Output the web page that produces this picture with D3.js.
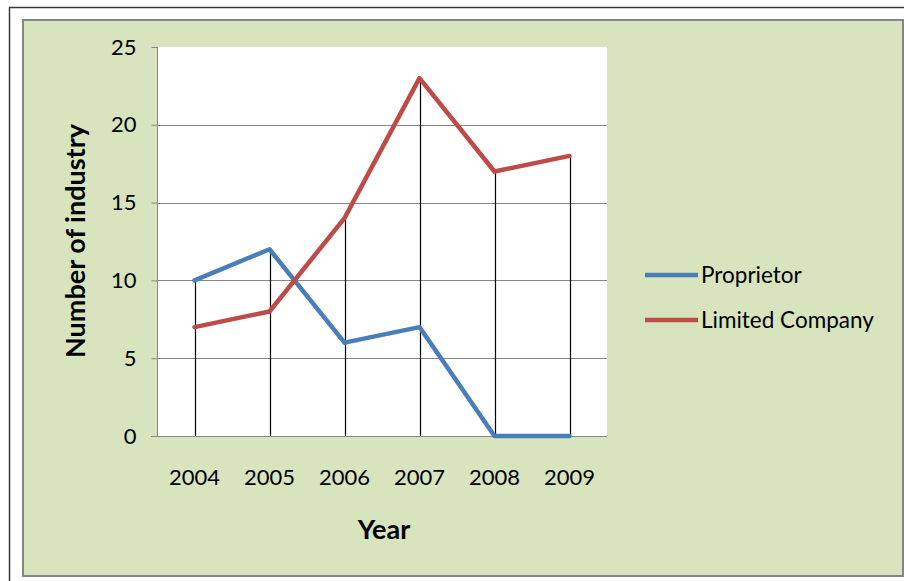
<!DOCTYPE html>
<html>
<head>
<meta charset="utf-8">
<script src="https://cdn.jsdelivr.net/npm/d3@7"></script>
<style>
  body { margin: 0; background: #fff; }
  svg text { font-family: Lato, "Open Sans", sans-serif; fill: #000; }
</style>
</head>
<body>
<div id="chart"></div>
<script>
const years = ['2004', '2005', '2006', '2007', '2008', '2009'];
const proprietor = [10, 12, 6, 7, 0, 0];
const limitedCompany = [7, 8, 14, 23, 17, 18];
const yTicks = [0, 5, 10, 15, 20, 25];

const series = [
    { name: 'Proprietor', values: proprietor, color: '#4A7EBB' },
    { name: 'Limited Company', values: limitedCompany, color: '#BE4B48' }
];

const width = 904, height = 581;
const plot = { left: 157, top: 47, right: 607, bottom: 436 };

const svg = d3.select('#chart')
    .append('svg')
    .attr('width', width)
    .attr('height', height);

// Outer frame lines
svg.append('path')
    .attr('d', `M9.5,${height} V7.5 H${width}`)
    .attr('fill', 'none')
    .attr('stroke', '#3a3a3a')
    .attr('stroke-width', 1.5);

// Chart area
svg.append('rect')
    .attr('x', 23)
    .attr('y', 20)
    .attr('width', 880)
    .attr('height', 556)
    .attr('fill', '#D7E4BD')
    .attr('stroke', '#868686')
    .attr('stroke-width', 2);

// Plot area
svg.append('rect')
    .attr('x', plot.left)
    .attr('y', plot.top)
    .attr('width', plot.right - plot.left)
    .attr('height', plot.bottom - plot.top)
    .attr('fill', '#fff');

const x = d3.scaleBand()
    .domain(years)
    .range([plot.left, plot.right])
    .padding(0);

const y = d3.scaleLinear()
    .domain([0, 25])
    .range([plot.bottom, plot.top]);

// Gridlines
svg.append('g')
    .selectAll('line')
    .data(yTicks.filter(d => d > 0 && d < 25))
    .join('line')
    .attr('x1', plot.left)
    .attr('x2', plot.right)
    .attr('y1', d => Math.round(y(d)) + 0.5)
    .attr('y2', d => Math.round(y(d)) + 0.5)
    .attr('stroke', '#868686')
    .attr('stroke-width', 1);

// Y axis
const yAxis = svg.append('g')
    .attr('transform', `translate(${plot.left + 0.5},0)`)
    .call(d3.axisLeft(y).tickValues(yTicks).tickSize(6).tickPadding(15));
yAxis.select('.domain').attr('stroke', '#868686').attr('d', `M0,${plot.top}V${plot.bottom}`);
yAxis.selectAll('.tick line').attr('stroke', '#868686');
yAxis.selectAll('.tick text')
    .style('font-size', '22px')
    .attr('fill', '#000');

// X axis line
svg.append('line')
    .attr('x1', plot.left - 6)
    .attr('x2', plot.right)
    .attr('y1', plot.bottom + 0.5)
    .attr('y2', plot.bottom + 0.5)
    .attr('stroke', '#868686');

// X labels
svg.append('g')
    .selectAll('text')
    .data(years)
    .join('text')
    .attr('x', d => x(d) + x.bandwidth() / 2)
    .attr('y', 485)
    .attr('text-anchor', 'middle')
    .style('font-size', '22px')
    .text(d => d);

// Drop lines
svg.append('g')
    .selectAll('line')
    .data(years)
    .join('line')
    .attr('x1', d => Math.round(x(d) + x.bandwidth() / 2) + 0.5)
    .attr('x2', d => Math.round(x(d) + x.bandwidth() / 2) + 0.5)
    .attr('y1', (d, i) => y(d3.max(series, s => s.values[i])))
    .attr('y2', plot.bottom)
    .attr('stroke', '#000')
    .attr('stroke-width', 1.2);

// Lines
const line = d3.line()
    .x((d, i) => x(years[i]) + x.bandwidth() / 2)
    .y(d => y(d));

svg.append('g')
    .selectAll('path')
    .data(series)
    .join('path')
    .attr('d', d => line(d.values))
    .attr('fill', 'none')
    .attr('stroke', d => d.color)
    .attr('stroke-width', 4.5)
    .attr('stroke-linejoin', 'round')
    .attr('stroke-linecap', 'round');

// Axis titles
svg.append('text')
    .attr('transform', 'translate(85,241) rotate(-90)')
    .attr('text-anchor', 'middle')
    .style('font-size', '27px')
    .style('font-weight', 'bold')
    .text('Number of industry');

svg.append('text')
    .attr('x', 384)
    .attr('y', 539)
    .attr('text-anchor', 'middle')
    .style('font-size', '27px')
    .style('font-weight', 'bold')
    .text('Year');

// Legend
const legend = svg.append('g')
    .selectAll('g')
    .data(series)
    .join('g')
    .attr('transform', (d, i) => `translate(645,${275 + i * 45})`);

legend.append('line')
    .attr('x1', 0)
    .attr('x2', 53)
    .attr('stroke', d => d.color)
    .attr('stroke-width', 4.5);

legend.append('text')
    .attr('x', 56)
    .attr('y', 8)
    .style('font-size', '22.5px')
    .text(d => d.name);
</script>
</body>
</html>
